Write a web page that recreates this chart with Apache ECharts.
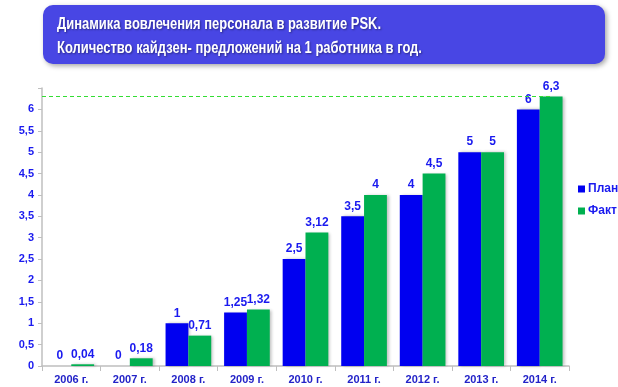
<!DOCTYPE html>
<html><head><meta charset="utf-8">
<script src="https://cdn.jsdelivr.net/npm/echarts@6/dist/echarts.min.js"></script>
<style>html,body{margin:0;padding:0;background:#fff}#c{width:618px;height:387px}</style>
</head><body><div id="c"></div>
<script>
var categories = ['2006 г.','2007 г.','2008 г.','2009 г.','2010 г.','2011 г.','2012 г.','2013 г.','2014 г.'];
var planValues = [0, 0, 1, 1.25, 2.5, 3.5, 4, 5, 6];
var factValues = [0.04, 0.18, 0.71, 1.32, 3.12, 4, 4.5, 5, 6.3];
var seriesNames = ['План', 'Факт'];
var titleLines = ['Динамика вовлечения персонала в развитие PSK.', 'Количество кайдзен- предложений на 1 работника в год.'];
var targetLine = 6.3;

var chart = echarts.init(document.getElementById('c'));
function fmt(v){ return String(v).replace('.', ','); }
var labelStyle = {show:true, position:'top', color:'#1a1aef', fontWeight:'bold', fontSize:12, fontFamily:'Liberation Sans', distance:4,
  formatter:function(p){return fmt(p.value);}};
chart.setOption({
  animation:false,
  grid:{left:42, right:49, top:88, bottom:21},
  legend:{orient:'vertical', left:573, top:178, itemWidth:7, itemHeight:7, itemGap:10,
    textStyle:{color:'#1a1aef', fontWeight:'bold', fontSize:12, fontFamily:'Liberation Sans', padding:[0,0,0,-2]},
    data:seriesNames.map(function(n){return {name:n, icon:'rect'};})},
  xAxis:{type:'category', data:categories,
    axisLine:{lineStyle:{color:'#bfbfbf', width:1.5}},
    axisTick:{show:true, length:5, lineStyle:{color:'#bfbfbf'}},
    axisLabel:{color:'#2323c8', fontWeight:'bold', fontSize:11, fontFamily:'Liberation Sans', margin:8}},
  yAxis:{type:'value', min:0, max:6.5, interval:0.5,
    splitLine:{show:false},
    axisLine:{show:true, lineStyle:{color:'#bfbfbf', width:1.5}},
    axisTick:{show:true, length:4, lineStyle:{color:'#bfbfbf'}},
    axisLabel:{color:'#1a1aef', fontWeight:'bold', fontSize:11, fontFamily:'Liberation Sans', margin:8,
      formatter:function(v){return v>6.01 ? '' : fmt(v);}}},
  series:[
    {name:seriesNames[0], type:'bar', data:planValues, barWidth:'39%', barGap:'0%',
      itemStyle:{color:'#0000f0', shadowColor:'rgba(0,0,0,0.25)', shadowBlur:3, shadowOffsetX:2},
      label:labelStyle},
    {name:seriesNames[1], type:'bar', data:factValues, barWidth:'39%', barGap:'0%',
      itemStyle:{color:'#00b050', shadowColor:'rgba(0,0,0,0.25)', shadowBlur:3, shadowOffsetX:2},
      label:labelStyle,
      markLine:{symbol:'none', silent:true, label:{show:false},
        lineStyle:{color:'#33dd33', type:[4,3], width:1},
        data:[[{coord:[0, targetLine], x:42}, {coord:[8, targetLine]}]]}}
  ],
  graphic:[
    {type:'rect', shape:{x:43, y:5, width:562, height:59, r:10},
      style:{fill:'#4846e4', shadowColor:'rgba(0,0,0,0.35)', shadowBlur:5, shadowOffsetX:2, shadowOffsetY:2}},
    {type:'text', x:57, y:17, scaleX:0.81, style:{text:titleLines[0], fill:'#fff', font:'bold 16px "Liberation Sans"',
      textShadowColor:'rgba(0,0,0,0.4)', textShadowBlur:2, textShadowOffsetX:1, textShadowOffsetY:1}},
    {type:'text', x:57, y:41, scaleX:0.81, style:{text:titleLines[1], fill:'#fff', font:'bold 16px "Liberation Sans"',
      textShadowColor:'rgba(0,0,0,0.4)', textShadowBlur:2, textShadowOffsetX:1, textShadowOffsetY:1}}
  ]
});
</script></body></html>
